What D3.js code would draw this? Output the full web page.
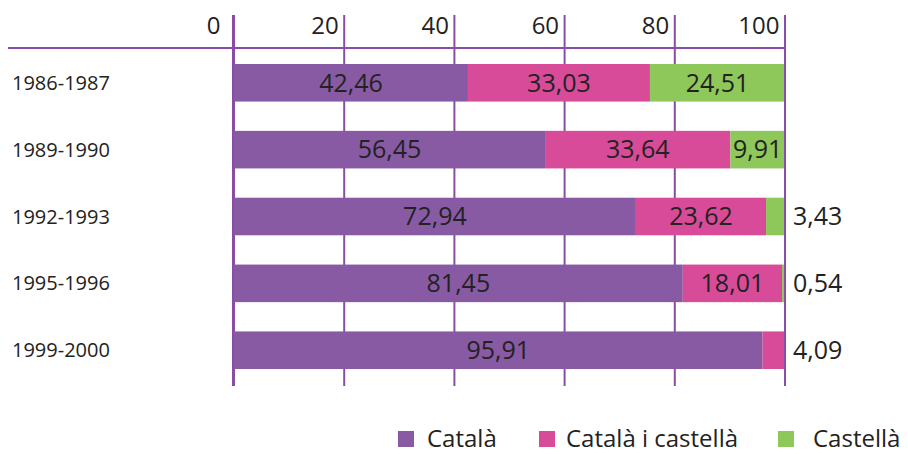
<!DOCTYPE html>
<html><head><meta charset="utf-8">
<script src="https://cdn.jsdelivr.net/npm/d3@7"></script>
<style>body{margin:0;background:#fff}svg{display:block;font-family:"Open Sans",sans-serif}</style>
</head><body><svg id="c" width="908" height="454"></svg>
<script>
const years = ["1986-1987","1989-1990","1992-1993","1995-1996","1999-2000"];
const catala = [42.46,56.45,72.94,81.45,95.91];
const catalaCastella = [33.03,33.64,23.62,18.01,4.09];
const castella = [24.51,9.91,3.43,0.54,0];
const seriesNames = ["Català","Català i castellà","Castellà"];
const tickValues = [0,20,40,60,80,100];
const colors = ["#885AA3","#D84B98","#8EC85A"];

const svg = d3.select("#c");
const x = d3.scaleLinear().domain([0,100]).range([234,785]);
const y = d3.scaleBand().domain(years).range([64,369]).paddingInner(0.438).paddingOuter(0);
const fmt = v => d3.format(".2f")(v).replace(".", ",");
const lineColor = "#8A4DA6";

const rows = years.map((yr,i)=>({year:yr, vals:[catala[i],catalaCastella[i],castella[i]]}));

// grid lines (behind bars)
svg.selectAll("line.g").data(tickValues).join("line").attr("class","g")
  .attr("x1",d=>x(d)).attr("x2",d=>x(d)).attr("y1",15).attr("y2",386)
  .attr("stroke",lineColor).attr("stroke-width",2);

// bars
rows.forEach((r,i)=>{
  let acc = 0;
  r.vals.forEach((v,j)=>{
    if (v<=0) return;
    svg.append("rect").attr("x",x(acc)).attr("y",y(r.year))
      .attr("width",x(acc+v)-x(acc)).attr("height",y.bandwidth())
      .attr("fill",colors[j]);
    const w = x(acc+v)-x(acc);
    if (w>50) {
      svg.append("text").attr("x",(x(acc)+x(acc+v))/2).attr("y",y(r.year)+y.bandwidth()/2)
        .attr("dy","0.35em").attr("text-anchor","middle").attr("font-size",25).attr("fill","#222")
        .text(fmt(v));
    } else if (r.vals.slice(j+1).every(q=>q<=0)) {
      svg.append("text").attr("x",x(100)+8).attr("y",y(r.year)+y.bandwidth()/2)
        .attr("dy","0.35em").attr("text-anchor","start").attr("font-size",25).attr("fill","#222")
        .text(fmt(v));
    }
    acc += v;
  });
});

// edge lines on top
svg.selectAll("line.e").data([0,100]).join("line").attr("class","e")
  .attr("x1",d=>x(d)-(d===0?1:0)).attr("x2",d=>x(d)-(d===0?1:0)).attr("y1",15).attr("y2",386)
  .attr("stroke",lineColor).attr("stroke-width",2);
svg.append("line").attr("x1",8).attr("x2",x(100)+1).attr("y1",48).attr("y2",48)
  .attr("stroke",lineColor).attr("stroke-width",2.2);

// top tick labels
const axis = d3.axisTop(x).tickValues(tickValues).tickSize(0).tickFormat(d3.format("d"));
const ag = svg.append("g").attr("transform","translate(0,37)").call(axis);
ag.select(".domain").remove();
ag.selectAll("text").attr("font-size",24).attr("fill","#222").attr("text-anchor","end")
  .attr("font-family","Open Sans, sans-serif").attr("dx",d=>d===0?-14:-6).attr("dy",0);

// category labels
svg.selectAll("text.cat").data(years).join("text").attr("class","cat")
  .attr("x",12).attr("y",d=>y(d)+y.bandwidth()/2).attr("dy","0.35em")
  .attr("font-size",20).attr("fill","#222").text(d=>d);

// legend
const legX = [398,539,778], legTX = [427,566,813];
seriesNames.forEach((n,i)=>{
  svg.append("rect").attr("x",legX[i]).attr("y",431).attr("width",16).attr("height",16).attr("fill",colors[i]);
  svg.append("text").attr("x",legTX[i]).attr("y",447).attr("font-size",24).attr("fill","#222").text(n);
});
</script></body></html>
